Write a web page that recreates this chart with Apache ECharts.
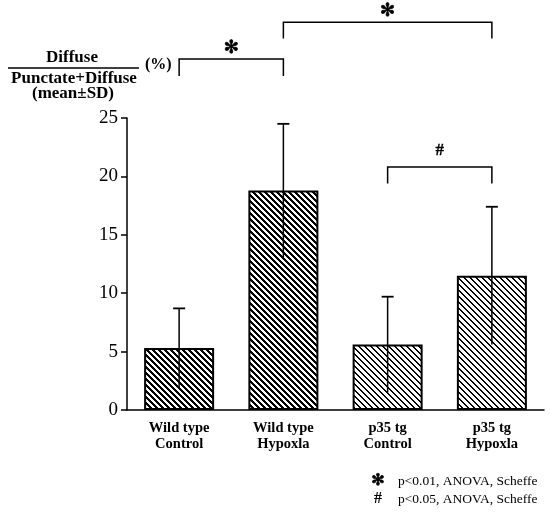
<!DOCTYPE html>
<html>
<head>
<meta charset="utf-8">
<script src="https://cdn.jsdelivr.net/npm/echarts@6/dist/echarts.min.js"></script>
<style>
html,body{margin:0;padding:0;background:#fff;}
#chart{width:550px;height:516px;}
</style>
</head>
<body>
<div id="chart"></div>
<script>
// ---- data ----
var categories = ['Wild type\nControl', 'Wild type\nHypoxla', 'p35 tg\nControl', 'p35 tg\nHypoxla'];
var means = [5.3, 18.8, 5.6, 11.5];
var sds = [3.4, 5.7, 4.1, 5.9];
var yTicks = [0, 5, 10, 15, 20, 25];
// significance brackets: from category, to category, top value, leg bottom value, label
var bracketFrom = [0, 1, 2];
var bracketTo = [1, 3, 3];
var bracketTop = [30.05, 33.2, 20.8];
var bracketLeg = [28.6, 31.8, 19.4];
var bracketLabel = ['✻', '✻', '#'];
var footnotes = ['p<0.01, ANOVA, Scheffe', 'p<0.05, ANOVA, Scheffe'];
var footSymbols = ['✻', '#'];

function hatch(size, dark) {
  var c = document.createElement('canvas');
  c.width = size; c.height = size;
  var g = c.getContext('2d');
  g.fillStyle = '#fff'; g.fillRect(0, 0, size, size);
  g.fillStyle = '#000';
  for (var y = 0; y < size; y++) {
    for (var x = 0; x < size; x++) {
      if ((((x - y) % size) + size) % size < dark) g.fillRect(x, y, 1, 1);
    }
  }
  return c;
}
var dense = hatch(6, 3);
var light = hatch(6, 2);
var patterns = [dense, dense, light, light];

var serif = '"Liberation Serif", "DejaVu Serif", serif';

var barData = means.map(function (m, i) {
  return { value: m, itemStyle: { color: { image: patterns[i], repeat: 'repeat' } } };
});
var errData = means.map(function (m, i) { return [i, m, sds[i]]; });
var brData = bracketFrom.map(function (f, i) { return [f, bracketTo[i], bracketTop[i], bracketLeg[i], i]; });

var chart = echarts.init(document.getElementById('chart'), null, { renderer: 'canvas' });
chart.setOption({
  animation: false,
  backgroundColor: '#fff',
  grid: { left: 127, right: 6, top: 118, bottom: 106, containLabel: false },
  xAxis: {
    type: 'category',
    data: categories,
    axisLine: { lineStyle: { color: '#000', width: 1.5 } },
    axisTick: { alignWithLabel: true, length: 6, lineStyle: { color: '#000', width: 1.5 } },
    axisLabel: { color: '#000', fontFamily: serif, fontWeight: 'bold', fontSize: 14.5, lineHeight: 16, margin: 10 }
  },
  yAxis: {
    type: 'value',
    min: 0, max: 25, interval: 5,
    splitLine: { show: false },
    axisLine: { show: true, lineStyle: { color: '#000', width: 1.5 } },
    axisTick: { show: true, length: 6, lineStyle: { color: '#000', width: 1.5 } },
    axisLabel: { color: '#000', fontFamily: serif, fontSize: 19, margin: 9 }
  },
  series: [
    {
      type: 'bar',
      data: barData,
      barWidth: 70,
      itemStyle: { borderColor: '#000', borderWidth: 2 },
      z: 2
    },
    {
      type: 'custom',
      data: errData,
      z: 5,
      renderItem: function (params, api) {
        var x = api.value(0), m = api.value(1), s = api.value(2);
        var top = api.coord([x, m + s]);
        var bot = api.coord([x, m - s]);
        return {
          type: 'group',
          children: [
            { type: 'line', shape: { x1: top[0], y1: top[1], x2: bot[0], y2: bot[1] }, style: { stroke: '#000', lineWidth: 1.5 } },
            { type: 'line', shape: { x1: top[0] - 6, y1: top[1], x2: top[0] + 6, y2: top[1] }, style: { stroke: '#000', lineWidth: 1.8 } }
          ]
        };
      }
    },
    {
      type: 'custom',
      data: brData,
      clip: false,
      z: 5,
      renderItem: function (params, api) {
        var a = api.value(0), b = api.value(1), t = api.value(2), l = api.value(3), idx = api.value(4);
        var p1 = api.coord([a, t]), p2 = api.coord([b, t]);
        var q1 = api.coord([a, l]), q2 = api.coord([b, l]);
        var lab = bracketLabel[idx];
        var isHash = lab === '#';
        return {
          type: 'group',
          children: [
            { type: 'polyline', shape: { points: [[q1[0], q1[1]], [p1[0], p1[1]], [p2[0], p2[1]], [q2[0], q2[1]]] }, style: { stroke: '#000', lineWidth: 1.5, fill: null } },
            { type: 'text', style: { text: lab, x: (p1[0] + p2[0]) / 2, y: p1[1] - (isHash ? 16 : 11), align: 'center', verticalAlign: 'middle',
              fontFamily: isHash ? serif : '"DejaVu Sans", sans-serif', fontWeight: 'bold', fontSize: isHash ? 17 : 18, fill: '#000',
              stroke: '#000', lineWidth: isHash ? 0.3 : 0.8 } }
          ]
        };
      }
    }
  ],
  graphic: [
    { type: 'text', x: 72, y: 58, style: { text: 'Diffuse', align: 'center', verticalAlign: 'middle', font: 'bold 17px ' + serif, fill: '#000' } },
    { type: 'line', shape: { x1: 8, y1: 68, x2: 139, y2: 68 }, style: { stroke: '#000', lineWidth: 1.6 } },
    { type: 'text', x: 74, y: 79, style: { text: 'Punctate+Diffuse', align: 'center', verticalAlign: 'middle', font: 'bold 17px ' + serif, fill: '#000' } },
    { type: 'text', x: 73, y: 94, style: { text: '(mean±SD)', align: 'center', verticalAlign: 'middle', font: 'bold 17px ' + serif, fill: '#000' } },
    { type: 'text', x: 145, y: 65, style: { text: '(%)', align: 'left', verticalAlign: 'middle', font: 'bold 16px ' + serif, fill: '#000' } },
    { type: 'text', x: 378, y: 481, style: { text: footSymbols[0], align: 'center', verticalAlign: 'middle', font: 'bold 16px "DejaVu Sans", sans-serif', fill: '#000', stroke: '#000', lineWidth: 0.8 } },
    { type: 'text', x: 398, y: 481, style: { text: footnotes[0], align: 'left', verticalAlign: 'middle', font: '13.5px ' + serif, fill: '#000' } },
    { type: 'text', x: 378, y: 499, style: { text: footSymbols[1], align: 'center', verticalAlign: 'middle', font: 'bold 16px ' + serif, fill: '#000' } },
    { type: 'text', x: 398, y: 499, style: { text: footnotes[1], align: 'left', verticalAlign: 'middle', font: '13.5px ' + serif, fill: '#000' } }
  ]
});
</script>
</body>
</html>
